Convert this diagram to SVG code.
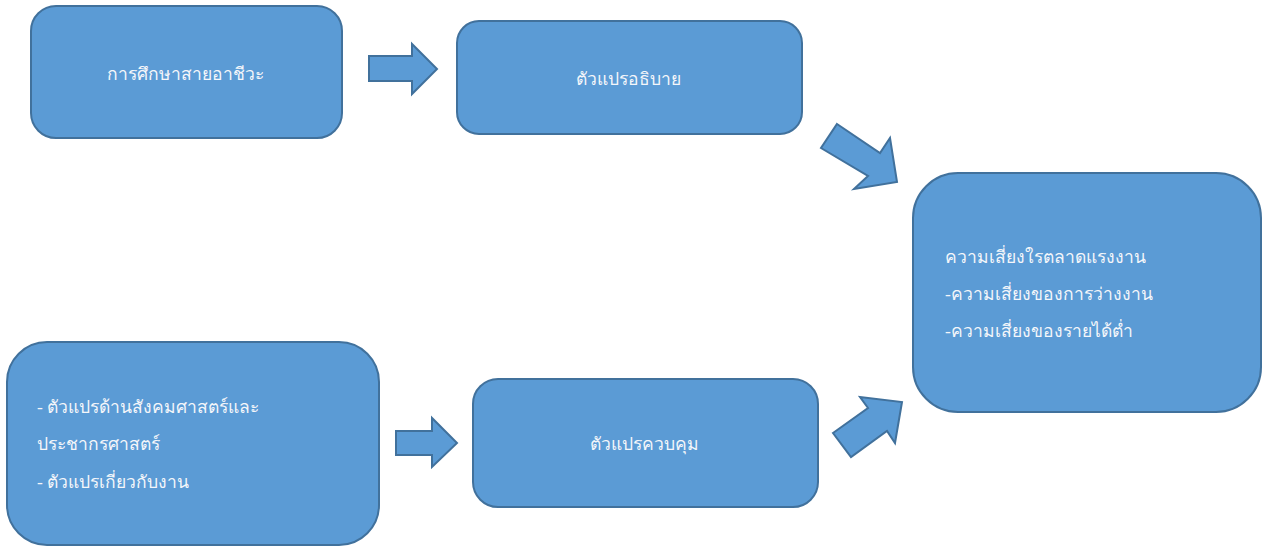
<svg xmlns="http://www.w3.org/2000/svg" width="1262" height="547" viewBox="0 0 1262 547">
<style>
.box{fill:#5B9BD5;stroke:#41719C;stroke-width:2}
.arr{fill:#5B9BD5;stroke:#41719C;stroke-width:2;stroke-linejoin:miter}
text{font-family:"Liberation Serif","Noto Sans",serif;font-size:17.5px;fill:#F4F6FA}
.c{text-anchor:middle}
</style>
<rect width="1262" height="547" fill="#FFFFFF"/>
<g id="connectors">
<polygon class="arr" points="369,56 412,56 412,44 437,69 412,94 412,81 369,81"/>
<polygon class="arr" points="396,431 432,431 432,418 457,443 432,467 432,455 396,455"/>
<polygon class="arr" points="837,124 880,153 890,138 897,182 854,189 868,176 821,148"/>
<polygon class="arr" points="833,433 868,408 860,397 902,402 895,443 887,431 851,457"/>
</g>
<g id="n1">
<rect class="box" x="31" y="6" width="311" height="132" rx="25"/>
<text class="c" x="185" y="80">การศึกษาสายอาชีวะ</text>
</g>
<g id="n2">
<rect class="box" x="457" y="21" width="345" height="113" rx="22"/>
<text class="c" x="628" y="85">ตัวแปรอธิบาย</text>
</g>
<g id="n3">
<rect class="box" x="7" y="342" width="372" height="203" rx="40"/>
<text x="37" y="413">- ตัวแปรด้านสังคมศาสตร์และ</text>
<text x="37" y="450">ประชากรศาสตร์</text>
<text x="37" y="488">- ตัวแปรเกี่ยวกับงาน</text>
</g>
<g id="n4">
<rect class="box" x="473" y="379" width="345" height="128" rx="25"/>
<text class="c" x="644" y="450">ตัวแปรควบคุม</text>
</g>
<g id="n5">
<rect class="box" x="913" y="173" width="348" height="239" rx="45"/>
<text x="945" y="263">ความเสี่ยงใรตลาดแรงงาน</text>
<text x="945" y="300">-ความเสี่ยงของการว่างงาน</text>
<text x="945" y="337">-ความเสี่ยงของรายได้ต่ำ</text>
</g>
</svg>
